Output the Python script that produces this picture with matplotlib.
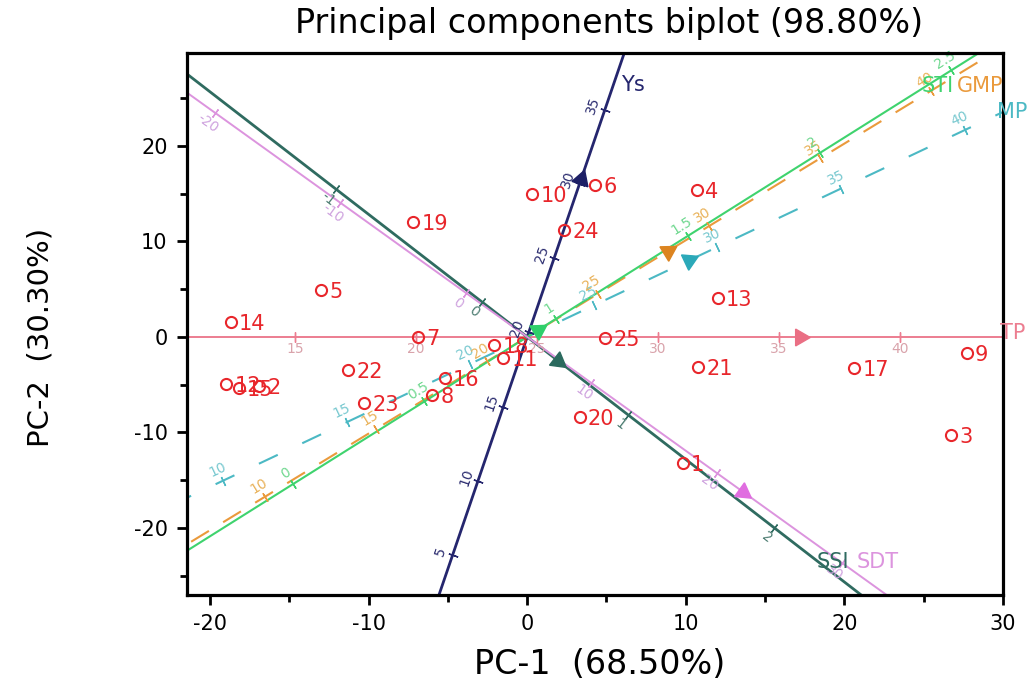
import numpy as np
import matplotlib.pyplot as plt

plt.rcParams['font.family'] = ['DejaVu Sans']
plt.rcParams['axes.unicode_minus'] = False

# genotype scores on PC-1 / PC-2
genotypes = [str(i) for i in range(1, 26)]
pc1 = [9.8, -16.9, 26.7, 10.7, -13.0, 4.3, -6.9, -6.0, 27.7, 0.3, -1.5, -19.0, 12.0,
       -18.7, -18.2, -5.2, 20.6, -2.1, -7.2, 3.3, 10.8, -11.3, -10.3, 2.3, 4.9]
pc2 = [-13.2, -5.1, -10.3, 15.4, 4.9, 15.9, 0.0, -6.1, -1.7, 14.9, -2.2, -4.9, 4.1,
       1.6, -5.3, -4.3, -3.3, -0.8, 12.0, -8.4, -3.1, -3.5, -6.9, 11.2, -0.1]

# trait vectors (arrow heads)
traits = ['Ys', 'TP', 'MP', 'GMP', 'STI', 'SSI', 'SDT']
load_pc1 = [3.4, 17.2, 10.2, 8.9, 0.70, 1.95, 13.6]
load_pc2 = [16.5, 0.0, 8.0, 9.0, 0.73, -2.5, -16.2]
# calibration of each biplot axis: value at the origin, axis length per unit
trait_mean = [19.7, 24.6, 22.3, 21.8, 0.89, 0.31, 4.9]
trait_step = [1.587, 1.526, 1.98, 1.99, 24.0, 15.0, 1.23]
trait_ticks = [
    [5, 10, 15, 20, 25, 30, 35],
    [15, 20, 25, 30, 35, 40],
    [10, 15, 20, 25, 30, 35, 40],
    [10, 15, 20, 25, 30, 35, 40],
    [0, 0.5, 1, 1.5, 2, 2.5],
    [-1, 0, 1, 2],
    [-20, -10, 0, 10, 20, 30],
]

# line colour, tick label colour, arrow colour, linestyle, label side, name offset (px)
styles = {
    'Ys':  ('#25266e', '#2c2d70', '#1d1f66', '-', 1, (-3, -32)),
    'TP':  ('#ec7d90', '#d9a3ab', '#ea6f84', '-', -1, (-3, 4)),
    'MP':  ('#4cb9c4', '#79c9d0', '#2ba9b9', (0, (10, 13)), 1, (-6, 0)),
    'GMP': ('#ea9a3c', '#e9b25a', '#dc8420', (0, (10, 8)), 1, (-36, -33)),
    'STI': ('#3fd36e', '#70d890', '#2fcf6a', '-', 1, (-57, -33)),
    'SSI': ('#2f6b60', '#4d7d72', '#2b6a5e', '-', -1, (-45, 33)),
    'SDT': ('#dc94de', '#cfa3df', '#e06de0', '-', -1, (-30, 33)),
}
widths = {'Ys': 2.0, 'TP': 1.4, 'MP': 1.5, 'GMP': 1.5, 'STI': 1.5, 'SSI': 2.0, 'SDT': 1.4}

fig = plt.figure(figsize=(10.32, 6.84), dpi=100)
ax = fig.add_axes([187 / 1032, 1 - 595 / 684, 816 / 1032, 542 / 684])
ax.set_xlim(-21.45, 30)
ax.set_ylim(-27.0, 29.7)

xl, yl = ax.get_xlim(), ax.get_ylim()


def inside(p):
    return xl[0] < p[0] < xl[1] and yl[0] < p[1] < yl[1]


def exit_point(u):
    ts = []
    for lim, c in ((xl, u[0]), (yl, u[1])):
        if c > 1e-9:
            ts.append(lim[1] / c)
        elif c < -1e-9:
            ts.append(lim[0] / c)
    return min(ts) * u


for i, name in enumerate(traits):
    col, tcol, acol, ls, side, noff = styles[name]
    d = np.array([load_pc1[i], load_pc2[i]])
    u = d / np.linalg.norm(d)
    ax.plot([-90 * u[0], 90 * u[0]], [-90 * u[1], 90 * u[1]], color=col, lw=widths[name],
            ls=ls, zorder=1)
    p0 = ax.transData.transform((0, 0))
    p1 = ax.transData.transform(u * 10)
    ang = np.degrees(np.arctan2(p1[1] - p0[1], p1[0] - p0[0]))
    nrm = np.radians(ang + 90 * side)
    for v in trait_ticks[i]:
        pos = u * (v - trait_mean[i]) * trait_step[i]
        if not inside(pos):
            continue
        ax.plot(pos[0], pos[1], marker=(2, 2, ang), ms=7, mec=col, mew=1.0, zorder=2)
        ax.annotate('{:g}'.format(v), pos, xytext=(9 * np.cos(nrm), 9 * np.sin(nrm)),
                    textcoords='offset points', rotation=ang, rotation_mode='anchor',
                    ha='center', va='center', fontsize=10, color=tcol, zorder=2)
    ax.plot(d[0], d[1], marker=(3, 0, ang - 90), ms=14, color=acol, mec=acol, zorder=3)
    ax.annotate(name, exit_point(u), xytext=noff, textcoords='offset pixels',
                ha='left', va='center', fontsize=15, color=col, annotation_clip=False,
                zorder=5)

ax.plot(pc1, pc2, 'o', ls='none', mfc='none', mec='#e8262b', ms=8, mew=1.5, zorder=4)
for g, x, y in zip(genotypes, pc1, pc2):
    ax.annotate(g, (x, y), xytext=(6, 0), textcoords='offset points', ha='left',
                va='center_baseline', fontsize=15, color='#e8262b', zorder=5)

ax.set_xticks([-20, -10, 0, 10, 20, 30])
ax.set_xticks([-15, -5, 5, 15, 25], minor=True)
ax.set_yticks([-20, -10, 0, 10, 20])
ax.set_yticks([-25, -15, -5, 5, 15, 25], minor=True)
ax.tick_params(which='major', length=7, width=2, labelsize=15, pad=7)
ax.tick_params(which='minor', length=5, width=2)
for s in ax.spines.values():
    s.set_linewidth(2.3)

fig.text(0.59, 0.966, 'Principal components biplot (98.80%)', ha='center', va='center',
         fontsize=24)
fig.text(0.581, 0.028, 'PC-1  (68.50%)', ha='center', va='center', fontsize=24)
fig.text(0.039, 0.507, 'PC-2  (30.30%)', ha='center', va='center', rotation=90, fontsize=21)

fig.savefig('out.png', dpi=100)
